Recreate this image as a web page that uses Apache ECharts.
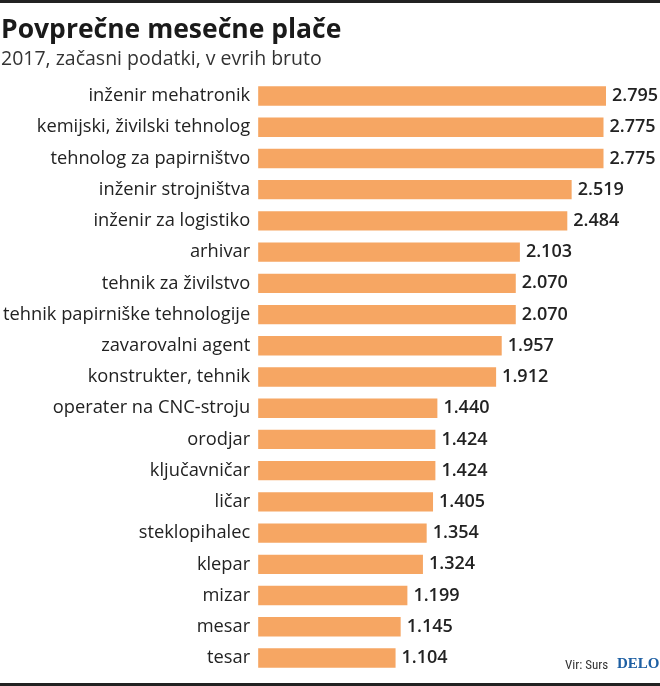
<!DOCTYPE html>
<html><head><meta charset="utf-8">
<script src="https://cdn.jsdelivr.net/npm/echarts@6/dist/echarts.min.js"></script>
<style>html,body{margin:0;padding:0;background:#fff}#c{width:660px;height:686px}</style>
</head><body><div id="c"></div>
<script>
const categories = ["inženir mehatronik","kemijski, živilski tehnolog","tehnolog za papirništvo","inženir strojništva","inženir za logistiko","arhivar","tehnik za živilstvo","tehnik papirniške tehnologije","zavarovalni agent","konstrukter, tehnik","operater na CNC-stroju","orodjar","ključavničar","ličar","steklopihalec","klepar","mizar","mesar","tesar"];
const values = [2795,2775,2775,2519,2484,2103,2070,2070,1957,1912,1440,1424,1424,1405,1354,1324,1199,1145,1104];
const titleText = "Povprečne mesečne plače";
const subtitleText = "2017, začasni podatki, v evrih bruto";
const sourceText = "Vir: Surs";
const brandText = "DELO";

const chart = echarts.init(document.getElementById('c'), null, {renderer:'canvas'});
const font = '"Open Sans", "Noto Sans", sans-serif';
chart.setOption({
  animation:false,
  backgroundColor:'#fff',
  title:{
    text:titleText, subtext:subtitleText, left:1, top:17, itemGap:5, padding:0,
    textStyle:{fontFamily:font, fontWeight:'bold', fontSize:26.5, color:'#1a1a1a'},
    subtextStyle:{fontFamily:font, fontSize:19.5, color:'#333'}
  },
  grid:{left:258, right:54, top:80.4, bottom:12.4, containLabel:false},
  xAxis:{type:'value', min:0, max:2795, show:false},
  yAxis:{type:'category', inverse:true, data:categories,
    axisLine:{show:false}, axisTick:{show:false},
    axisLabel:{margin:8, fontFamily:font, fontSize:18.3, color:'#222'}},
  series:[{type:'bar', data:values, barCategoryGap:'38%',
    itemStyle:{color:'#F6A663'},
    label:{show:true, position:'right', distance:6, fontFamily:font, fontSize:18, fontWeight:600, color:'#222',
      formatter:p=>p.value.toLocaleString('de-DE')}}],
  graphic:[
    {type:'rect', shape:{x:0,y:0,width:660,height:3}, style:{fill:'#222'}},
    {type:'rect', shape:{x:0,y:683,width:660,height:3}, style:{fill:'#222'}},
    {type:'text', left:565, top:659, style:{text:sourceText, font:'13px "Liberation Sans Narrow", "Roboto Condensed", sans-serif', fill:'#333'}},
    {type:'text', left:617, top:657, style:{text:brandText, font:'bold 15px "Liberation Serif", "DejaVu Serif", serif', fill:'#1d5fa3'}}
  ]
});
</script></body></html>
